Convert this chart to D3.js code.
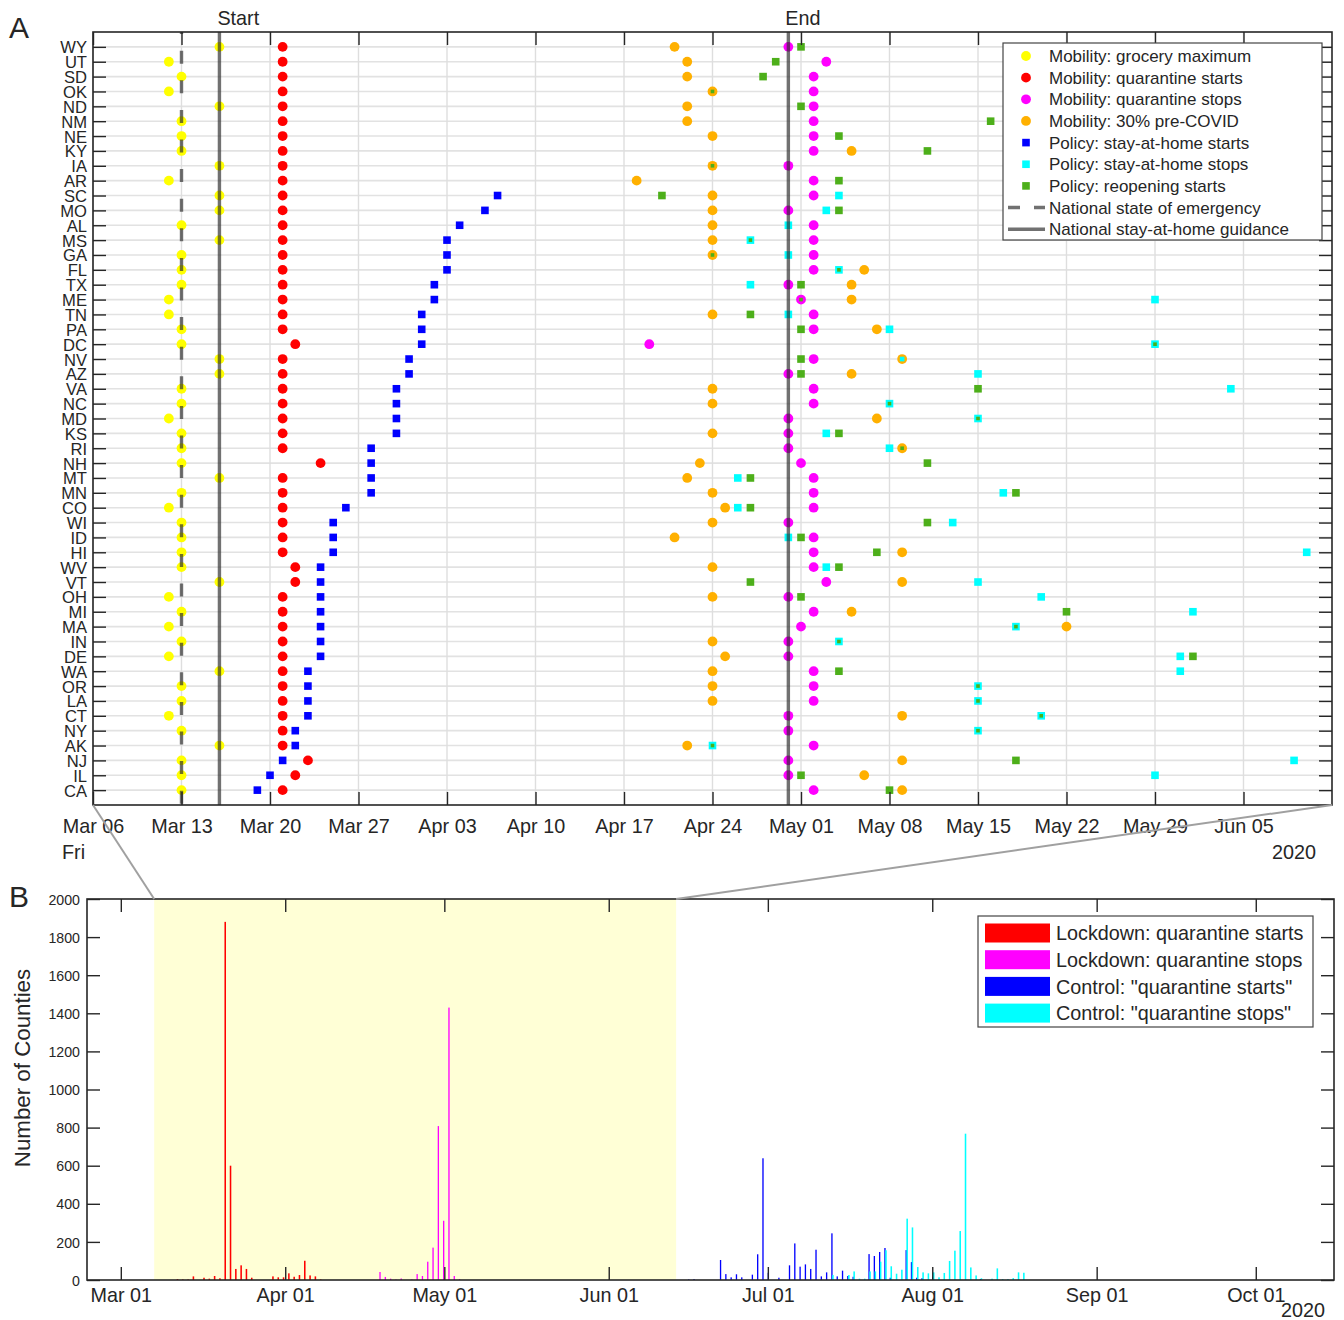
<!DOCTYPE html>
<html><head><meta charset="utf-8">
<script src="https://cdn.jsdelivr.net/npm/d3@7"></script>
<style>
body{margin:0;background:#fff}
text{font-family:"Liberation Sans",Arial,Helvetica,sans-serif;fill:#262626}
</style>
</head><body>
<svg id="c" width="1344" height="1320"></svg>
<script>
// ---------------- DATA (panel A) ----------------
const states = ["WY","UT","SD","OK","ND","NM","NE","KY","IA","AR","SC","MO","AL","MS","GA","FL","TX","ME","TN","PA","DC","NV","AZ","VA","NC","MD","KS","RI","NH","MT","MN","CO","WI","ID","HI","WV","VT","OH","MI","MA","IN","DE","WA","OR","LA","CT","NY","AK","NJ","IL","CA"];
const groceryMax = ["03-16","03-12","03-13","03-12","03-16","03-13","03-13","03-13","03-16","03-12","03-16","03-16","03-13","03-16","03-13","03-13","03-13","03-12","03-12","03-13","03-13","03-16","03-16","03-13","03-13","03-12","03-13","03-13","03-13","03-16","03-13","03-12","03-13","03-13","03-13","03-13","03-16","03-12","03-13","03-12","03-13","03-12","03-16","03-13","03-13","03-12","03-13","03-16","03-13","03-13","03-13"];
const quarStarts = ["03-21","03-21","03-21","03-21","03-21","03-21","03-21","03-21","03-21","03-21","03-21","03-21","03-21","03-21","03-21","03-21","03-21","03-21","03-21","03-21","03-22","03-21","03-21","03-21","03-21","03-21","03-21","03-21","03-24","03-21","03-21","03-21","03-21","03-21","03-21","03-22","03-22","03-21","03-21","03-21","03-21","03-21","03-21","03-21","03-21","03-21","03-21","03-21","03-23","03-22","03-21"];
const quarStops = ["04-30","05-03","05-02","05-02","05-02","05-02","05-02","05-02","04-30","05-02","05-02","04-30","05-02","05-02","05-02","05-02","04-30","05-01","05-02","05-02","04-19","05-02","04-30","05-02","05-02","04-30","04-30","04-30","05-01","05-02","05-02","05-02","04-30","05-02","05-02","05-02","05-03","04-30","05-02","05-01","04-30","04-30","05-02","05-02","05-02","04-30","04-30","05-02","04-30","04-30","05-02"];
const preCovid30 = ["04-21","04-22","04-22","04-24","04-22","04-22","04-24","05-05","04-24","04-18","04-24","04-24","04-24","04-24","04-24","05-06","05-05","05-05","04-24","05-07",null,"05-09","05-05","04-24","04-24","05-07","04-24","05-09","04-23","04-22","04-24","04-25","04-24","04-21","05-09","04-24","05-09","04-24","05-05","05-22","04-24","04-25","04-24","04-24","04-24","05-09",null,"04-22","05-09","05-06","05-09"];
const stayStarts = [null,null,null,null,null,null,null,null,null,null,"04-07","04-06","04-04","04-03","04-03","04-03","04-02","04-02","04-01","04-01","04-01","03-31","03-31","03-30","03-30","03-30","03-30","03-28","03-28","03-28","03-28","03-26","03-25","03-25","03-25","03-24","03-24","03-24","03-24","03-24","03-24","03-24","03-23","03-23","03-23","03-23","03-22","03-22","03-21","03-20","03-19"];
const stayStops = [null,null,null,null,null,null,null,null,null,null,"05-04","05-03","04-30","04-27","04-30","05-04","04-27","05-29","04-30","05-08","05-29","05-09","05-15","06-04","05-08","05-15","05-03","05-08",null,"04-26","05-17","04-26","05-13","04-30","06-10","05-03","05-15","05-20","06-01","05-18","05-04","05-31","05-31","05-15","05-15","05-20","05-15","04-24","06-09","05-29",null];
const reopenStarts = ["05-01","04-29","04-28","04-24","05-01","05-16","05-04","05-11","04-24","05-04","04-20","05-04",null,"04-27","04-24","05-04","05-01","05-01","04-27","05-01","05-29","05-01","05-01","05-15","05-08","05-15","05-04","05-09","05-11","04-27","05-18","04-27","05-11","05-01","05-07","05-04","04-27","05-01","05-22","05-18","05-04","06-01","05-04","05-15","05-15","05-20","05-15","04-24","05-18","05-01","05-08"];
const emergencyDate = "03-13";
const guidanceStart = "03-16";
const guidanceEnd = "04-30";
const aDomain = ["03-06","06-12"];
const legendA = ["Mobility: grocery maximum","Mobility: quarantine starts","Mobility: quarantine stops","Mobility: 30% pre-COVID","Policy: stay-at-home starts","Policy: stay-at-home stops","Policy: reopening starts","National state of emergency","National stay-at-home guidance"];

// ---------------- DATA (panel B) : [date, number of counties] ----------------
const lockStarts = [["03-12",5],["03-13",3],["03-14",3],["03-15",19],["03-17",12],["03-18",7],["03-19",21],["03-20",9],["03-21",1880],["03-22",600],["03-23",58],["03-24",77],["03-25",58],["03-26",12],["03-30",19],["03-31",14],["04-01",14],["04-02",35],["04-03",17],["04-04",26],["04-05",101],["04-06",24],["04-07",19],["04-08",3]];
const lockStops = [["04-19",42],["04-20",16],["04-21",7],["04-22",3],["04-23",8],["04-25",3],["04-26",31],["04-27",21],["04-28",96],["04-29",170],["04-30",808],["05-01",311],["05-02",1430],["05-03",21],["05-04",5]];
const ctrlStarts = [["06-16",3],["06-17",5],["06-22",105],["06-23",31],["06-24",14],["06-25",30],["06-26",14],["06-28",28],["06-29",135],["06-30",639],["07-01",38],["07-03",12],["07-05",77],["07-06",192],["07-07",70],["07-08",82],["07-09",58],["07-10",159],["07-11",19],["07-12",40],["07-13",245],["07-14",19],["07-15",49],["07-16",21],["07-17",17],["07-20",136],["07-21",126],["07-22",147],["07-23",168],["07-24",12],["07-27",157],["07-28",94],["07-29",12],["07-30",10],["08-01",17],["08-10",5]];
const ctrlStops = [["07-13",26],["07-16",26],["07-17",45],["07-18",7],["07-19",7],["07-20",45],["07-21",45],["07-22",96],["07-23",156],["07-24",72],["07-25",33],["07-26",54],["07-27",322],["07-28",276],["07-29",68],["07-30",40],["07-31",35],["08-01",40],["08-02",14],["08-03",37],["08-04",100],["08-05",154],["08-06",257],["08-07",768],["08-08",66],["08-09",24],["08-10",9],["08-12",7],["08-13",61],["08-14",5],["08-15",5],["08-16",10],["08-17",40],["08-18",38]];
const bDomain = ["02-23 15","10-15 18"];
const bHighlight = ["03-07 07","06-13 17"];
const bMonthTicks = ["03-01","04-01","05-01","06-01","07-01","08-01","09-01","10-01"];
const bYTicks = [0,200,400,600,800,1000,1200,1400,1600,1800,2000];
const legendB = ["Lockdown: quarantine starts","Lockdown: quarantine stops","Control: \"quarantine starts\"","Control: \"quarantine stops\""];
const barColors = ["#ff0000","#ff00ff","#0000ff","#00ffff"];

// ---------------- helpers ----------------
const pDay = d3.timeParse("%Y-%m-%d");
const pHour = d3.timeParse("%Y-%m-%d %H");
const P = s => s ? pDay("2020-" + s) : null;
const PH = s => pHour("2020-" + s);
const fmt = d3.timeFormat("%b %d");
const AX = "#262626";

const svg = d3.select("#c");
svg.append("rect").attr("width",1344).attr("height",1320).attr("fill","#fff");

// ================= PANEL A =================
const A = {l:93, r:1332, t:32, b:805};
const xA = d3.scaleTime().domain([P(aDomain[0]), P(aDomain[1])]).range([A.l, A.r]);
const yA = d3.scaleLinear().domain([0, states.length + 1]).range([A.t, A.b]);
const weekTicks = d3.timeDay.range(P(aDomain[0]), d3.timeDay.offset(P(aDomain[1]), -1), 7);
const gA = svg.append("g");

// grid
gA.append("g").selectAll("line").data(states).join("line")
  .attr("x1", A.l).attr("x2", A.r)
  .attr("y1", (d,i)=>yA(i+1)).attr("y2",(d,i)=>yA(i+1))
  .attr("stroke","#e2e2e2").attr("stroke-width",1.6);
gA.append("g").selectAll("line").data(weekTicks).join("line")
  .attr("x1", d=>xA(d)).attr("x2", d=>xA(d))
  .attr("y1", A.t).attr("y2", A.b)
  .attr("stroke","#dedede").attr("stroke-width",1.4);

// markers
const C = {yellow:"#ffff00", red:"#ff0000", magenta:"#ff00ff", orange:"#ffb000", blue:"#0000ff", cyan:"#00ffff", green:"#4daf1a"};
const R = 4.9, S = 7.6, Ssmall = 3.6;
function pts(arr){ return arr.map((s,i)=>({i, d:P(s), s})).filter(o=>o.d); }
function circles(arr, color){
  gA.append("g").selectAll("circle").data(pts(arr)).join("circle")
    .attr("cx", o=>xA(o.d)).attr("cy", o=>yA(o.i+1)).attr("r", R).attr("fill", color);
}
function squares(arr, color, sizeFn){
  gA.append("g").selectAll("rect").data(pts(arr)).join("rect")
    .each(function(o){
      const s = sizeFn ? sizeFn(o) : S;
      d3.select(this).attr("x", xA(o.d)-s/2).attr("y", yA(o.i+1)-s/2).attr("width", s).attr("height", s);
    })
    .attr("fill", color);
}
circles(groceryMax, C.yellow);
circles(quarStarts, C.red);
circles(quarStops, C.magenta);
circles(preCovid30, C.orange);
squares(stayStarts, C.blue);
squares(stayStops, C.cyan, o => preCovid30[o.i]===o.s ? Ssmall+1 : S);
squares(reopenStarts, C.green, o => (stayStops[o.i]===o.s || preCovid30[o.i]===o.s || quarStops[o.i]===o.s) ? Ssmall : S);

// national lines (drawn over markers, semi-transparent)
const lineCol = "rgba(45,45,45,0.68)";
gA.append("line").attr("x1",xA(P(emergencyDate))).attr("x2",xA(P(emergencyDate)))
  .attr("y1",A.t).attr("y2",A.b).attr("stroke",lineCol).attr("stroke-width",3.4)
  .attr("stroke-dasharray","13,16.6").attr("stroke-dashoffset",10.9);
[guidanceStart, guidanceEnd].forEach(s=>{
  gA.append("line").attr("x1",xA(P(s))).attr("x2",xA(P(s)))
    .attr("y1",A.t).attr("y2",A.b).attr("stroke",lineCol).attr("stroke-width",3.4);
});
gA.append("text").attr("x", xA(P(guidanceStart))-2).attr("y", 25).attr("font-size",19.8).text("Start");
gA.append("text").attr("x", xA(P(guidanceEnd))-3).attr("y", 25).attr("font-size",19.8).text("End");

// axes A
const axB = gA.append("g").attr("transform",`translate(0,${A.b})`)
  .call(d3.axisBottom(xA).tickValues(weekTicks).tickFormat(fmt).tickSizeInner(-13).tickSizeOuter(0).tickPadding(14));
const axT = gA.append("g").attr("transform",`translate(0,${A.t})`)
  .call(d3.axisTop(xA).tickValues(weekTicks).tickFormat("").tickSizeInner(-13).tickSizeOuter(0));
const axL = gA.append("g").attr("transform",`translate(${A.l},0)`)
  .call(d3.axisLeft(yA).tickValues(d3.range(1, states.length+1)).tickFormat(i=>states[i-1]).tickSizeInner(-13).tickSizeOuter(0).tickPadding(6));
const axR = gA.append("g").attr("transform",`translate(${A.r},0)`)
  .call(d3.axisRight(yA).tickValues(d3.range(1, states.length+1)).tickFormat("").tickSizeInner(-13).tickSizeOuter(0));
[axB,axT,axL,axR].forEach(g=>{ g.select(".domain").remove(); g.selectAll(".tick line").attr("stroke",AX).attr("stroke-width",1.4); g.selectAll("text").attr("fill",AX).attr("font-family",null); });
axB.selectAll("text").attr("font-size",19.8);
axL.selectAll("text").attr("font-size",16.6).attr("dy","0.36em");
gA.append("rect").attr("x",A.l).attr("y",A.t).attr("width",A.r-A.l).attr("height",A.b-A.t)
  .attr("fill","none").attr("stroke",AX).attr("stroke-width",1.6);
gA.append("text").attr("x",62).attr("y",859).attr("font-size",19.8).text(d3.timeFormat("%a")(P(aDomain[0])));
gA.append("text").attr("x",1316).attr("y",859).attr("text-anchor","end").attr("font-size",19.8).text(d3.timeFormat("%Y")(P(aDomain[0])));
svg.append("text").attr("x",9).attr("y",38).attr("font-size",30).text("A");

// legend A
const LA = {x:1003, y:43, w:319, h:197};
const lg = gA.append("g");
lg.append("rect").attr("x",LA.x).attr("y",LA.y).attr("width",LA.w).attr("height",LA.h).attr("fill","#fff").attr("stroke","#444").attr("stroke-width",1.2);
const legSym = [["c",C.yellow],["c",C.red],["c",C.magenta],["c",C.orange],["s",C.blue],["s",C.cyan],["s",C.green],["dash"],["solid"]];
legendA.forEach((t,k)=>{
  const yy = 56 + k*21.65, sym = legSym[k];
  if(sym[0]==="c") lg.append("circle").attr("cx",1026).attr("cy",yy).attr("r",R).attr("fill",sym[1]);
  else if(sym[0]==="s") lg.append("rect").attr("x",1026-3.8).attr("y",yy-3.8).attr("width",7.6).attr("height",7.6).attr("fill",sym[1]);
  else lg.append("line").attr("x1",1008).attr("x2",1045).attr("y1",yy).attr("y2",yy)
    .attr("stroke",lineCol).attr("stroke-width",3.4).attr("stroke-dasharray", sym[0]==="dash" ? "12,14" : null);
  lg.append("text").attr("x",1049).attr("y",yy).attr("dy","0.36em").attr("font-size",17).text(t);
});

// ================= PANEL B =================
const B = {l:87, r:1334, t:899, b:1280};
const xB = d3.scaleTime().domain([PH(bDomain[0]), PH(bDomain[1])]).range([B.l, B.r]);
const yB = d3.scaleLinear().domain([0,2000]).range([B.b, B.t]);
const gB = svg.append("g");
gB.append("rect").attr("x", xB(PH(bHighlight[0]))).attr("y",B.t)
  .attr("width", xB(PH(bHighlight[1])) - xB(PH(bHighlight[0]))).attr("height", B.b-B.t)
  .attr("fill","#ffffd6");

[lockStarts, lockStops, ctrlStarts, ctrlStops].forEach((ser,k)=>{
  const offH = (k-1.5)*4.8;  // grouped-bar offset in hours
  gB.append("g").selectAll("rect").data(ser).join("rect")
    .attr("x", d=>xB(d3.timeHour.offset(P(d[0]), offH-3.3)))
    .attr("width", d=>xB(d3.timeHour.offset(P(d[0]), offH+3.3)) - xB(d3.timeHour.offset(P(d[0]), offH-3.3)))
    .attr("y", d=>yB(d[1])).attr("height", d=>B.b - yB(d[1]))
    .attr("fill", barColors[k]);
});

const monthT = bMonthTicks.map(P);
const bxB = gB.append("g").attr("transform",`translate(0,${B.b})`)
  .call(d3.axisBottom(xB).tickValues(monthT).tickFormat(fmt).tickSizeInner(-13).tickSizeOuter(0).tickPadding(8));
const bxT = gB.append("g").attr("transform",`translate(0,${B.t})`)
  .call(d3.axisTop(xB).tickValues(monthT).tickFormat("").tickSizeInner(-13).tickSizeOuter(0));
const byL = gB.append("g").attr("transform",`translate(${B.l},0)`)
  .call(d3.axisLeft(yB).tickValues(bYTicks).tickFormat(d3.format("d")).tickSizeInner(-13).tickSizeOuter(0).tickPadding(7));
const byR = gB.append("g").attr("transform",`translate(${B.r},0)`)
  .call(d3.axisRight(yB).tickValues(bYTicks).tickFormat("").tickSizeInner(-13).tickSizeOuter(0));
[bxB,bxT,byL,byR].forEach(g=>{ g.select(".domain").remove(); g.selectAll(".tick line").attr("stroke",AX).attr("stroke-width",1.4); g.selectAll("text").attr("fill",AX).attr("font-family",null); });
bxB.selectAll("text").attr("font-size",19.8);
byL.selectAll("text").attr("font-size",14.2).attr("dy","0.36em");
gB.append("rect").attr("x",B.l).attr("y",B.t).attr("width",B.r-B.l).attr("height",B.b-B.t)
  .attr("fill","none").attr("stroke",AX).attr("stroke-width",1.6);
gB.append("text").attr("transform","translate(30,1068) rotate(-90)").attr("text-anchor","middle").attr("font-size",22.3).text("Number of Counties");
gB.append("text").attr("x",1325).attr("y",1317).attr("text-anchor","end").attr("font-size",19.8).text("2020");
svg.append("text").attr("x",9).attr("y",907).attr("font-size",30).text("B");

// legend B
const lgB = gB.append("g");
lgB.append("rect").attr("x",978).attr("y",916).attr("width",335).attr("height",111).attr("fill","#fff").attr("stroke","#444").attr("stroke-width",1.2);
legendB.forEach((t,k)=>{
  const yy = 933 + k*26.7;
  lgB.append("rect").attr("x",985).attr("y",yy-9.5).attr("width",65).attr("height",19).attr("fill",barColors[k]);
  lgB.append("text").attr("x",1056).attr("y",yy).attr("dy","0.36em").attr("font-size",19.8).text(t);
});

// connector lines from panel A range to highlight in B
svg.append("line").attr("x1",xA(P(aDomain[0]))).attr("y1",A.b).attr("x2",xB(PH(bHighlight[0]))).attr("y2",B.t)
  .attr("stroke","#a0a0a0").attr("stroke-width",2);
svg.append("line").attr("x1",xA(P(aDomain[1]))).attr("y1",A.b).attr("x2",xB(PH(bHighlight[1]))).attr("y2",B.t)
  .attr("stroke","#a0a0a0").attr("stroke-width",2);
</script>
</body></html>
